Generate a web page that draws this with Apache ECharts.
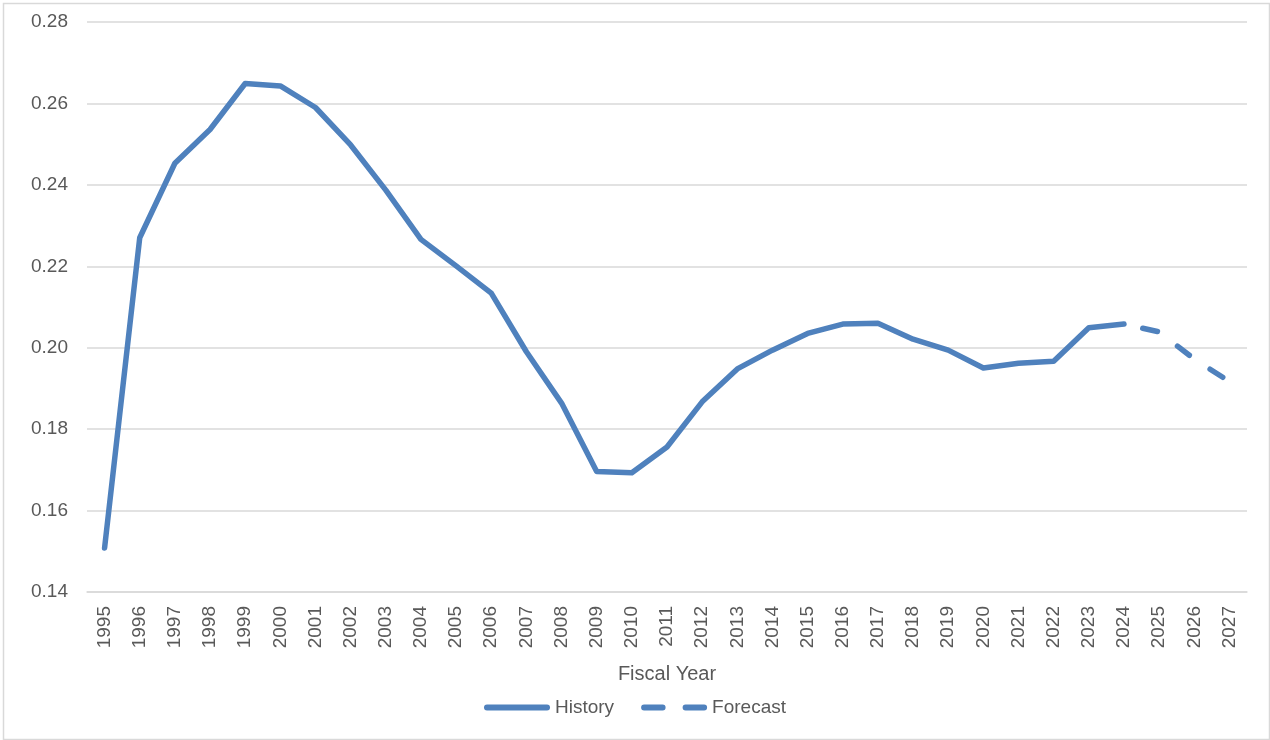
<!DOCTYPE html>
<html>
<head>
<meta charset="utf-8">
<script src="https://cdn.jsdelivr.net/npm/echarts@6/dist/echarts.min.js"></script>
<style>
  html, body { margin: 0; padding: 0; background: #ffffff; }
  #chart { width: 1270px; height: 740px; }
</style>
</head>
<body>
<div id="chart"></div>
<script>
// Fiscal years on the category axis
const years = ['1995','1996','1997','1998','1999','2000','2001','2002','2003','2004',
  '2005','2006','2007','2008','2009','2010','2011','2012','2013','2014','2015','2016',
  '2017','2018','2019','2020','2021','2022','2023','2024','2025','2026','2027'];

// Observed values, 1995–2024
const historyValues = [0.1508, 0.2270, 0.2453, 0.2536, 0.2649, 0.2643, 0.2590, 0.2498,
  0.2387, 0.2266, 0.2201, 0.2134, 0.1990, 0.1864, 0.1696, 0.1693, 0.1756, 0.1867,
  0.1948, 0.1994, 0.2035, 0.2058, 0.2060, 0.2021, 0.1994, 0.1950, 0.1962, 0.1967,
  0.2049, 0.2058];

// Projected values, 2024–2027
const forecastValues = [0.2058, 0.2039, 0.1972, 0.1917];

const yTicks = { min: 0.14, max: 0.28, interval: 0.02 };

const lineColor = '#4f81bd';
const textColor = '#595959';
const gridColor = '#d9d9d9';
const fontFamily = '"Liberation Sans", Arial, sans-serif';
const lineWidth = 5.5;

// Legend keys: a solid bar and a two-dash bar
const solidIcon = 'path://M3,0H63A3,3 0 0 1 63,6H3A3,3 0 0 1 3,0Z';
const dashedIcon = 'path://M3,0H21.5A3,3 0 0 1 21.5,6H3A3,3 0 0 1 3,0Z M44.5,0H63A3,3 0 0 1 63,6H44.5A3,3 0 0 1 44.5,0Z';

// Pad both series to the full year range
const historyData = years.map((y, i) => i < historyValues.length ? historyValues[i] : null);
const forecastStart = years.length - forecastValues.length;
const forecastData = years.map((y, i) => i >= forecastStart ? forecastValues[i - forecastStart] : null);

const chart = echarts.init(document.getElementById('chart'), null, { renderer: 'canvas' });
chart.setOption({
  animation: false,
  backgroundColor: '#ffffff',
  graphic: [{
    type: 'rect',
    left: 1, top: 1,
    shape: { width: 1266, height: 736 },
    style: { fill: 'none', stroke: gridColor, lineWidth: 1.5 },
    silent: true
  }],
  grid: { left: 87, right: 23, top: 22, bottom: 148, containLabel: false },
  legend: {
    top: 693,
    left: 'center',
    itemWidth: 66,
    itemHeight: 6,
    itemGap: 27,
    textStyle: { color: textColor, fontSize: 19, fontFamily: fontFamily },
    data: [
      { name: 'History', icon: solidIcon },
      { name: 'Forecast', icon: dashedIcon }
    ]
  },
  xAxis: {
    type: 'category',
    data: years,
    boundaryGap: true,
    name: 'Fiscal Year',
    nameLocation: 'middle',
    nameGap: 72,
    nameTextStyle: { color: textColor, fontSize: 20, fontFamily: fontFamily },
    axisLine: { show: true, lineStyle: { color: gridColor, width: 1.5 } },
    axisTick: { show: false },
    axisLabel: { rotate: 90, margin: 14, color: textColor, fontSize: 19, fontFamily: fontFamily, interval: 0 },
    splitLine: { show: false }
  },
  yAxis: {
    type: 'value',
    min: yTicks.min,
    max: yTicks.max,
    interval: yTicks.interval,
    axisLine: { show: false },
    axisTick: { show: false },
    axisLabel: {
      margin: 19, color: textColor, fontSize: 19, fontFamily: fontFamily,
      formatter: v => v.toFixed(2)
    },
    splitLine: { lineStyle: { color: gridColor, width: 1.5 } }
  },
  series: [
    {
      name: 'History',
      type: 'line',
      data: historyData,
      showSymbol: false,
      symbol: 'none',
      lineStyle: { color: lineColor, width: lineWidth, cap: 'round', join: 'round' },
      itemStyle: { color: lineColor }
    },
    {
      name: 'Forecast',
      type: 'line',
      data: forecastData,
      showSymbol: false,
      symbol: 'none',
      lineStyle: {
        color: lineColor, width: lineWidth, type: [15, 25], dashOffset: 20.75,
        cap: 'round', join: 'round'
      },
      itemStyle: { color: lineColor }
    }
  ]
});
</script>
</body>
</html>
